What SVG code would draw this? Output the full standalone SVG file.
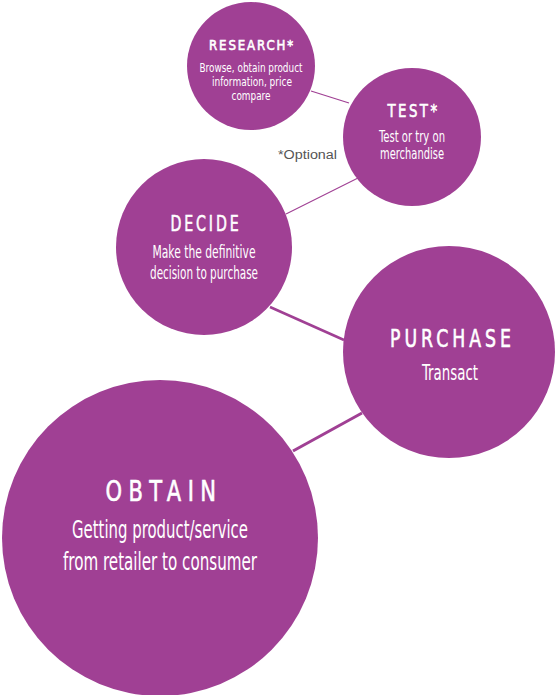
<svg xmlns="http://www.w3.org/2000/svg" width="556" height="695" viewBox="0 0 556 695">
<style>
.c{fill:#a04094}
.t{fill:#fff;font-family:"DejaVu Sans Condensed","Liberation Sans Narrow","Liberation Sans",sans-serif;text-anchor:middle}
.b{stroke:#fff;stroke-width:0.6px}
.ln{stroke:#a04094;fill:none}
.opt{fill:#555;font-family:"Liberation Sans","DejaVu Sans",sans-serif;font-size:12px}
</style>
<rect width="556" height="695" fill="#fff"/>
<g id="connectors">
<line class="ln" x1="311" y1="91" x2="349" y2="103" stroke-width="1.2"/>
<line class="ln" x1="286" y1="214" x2="358" y2="178" stroke-width="1.2"/>
<line class="ln" x1="270" y1="307" x2="344" y2="340" stroke-width="2.5"/>
<line class="ln" x1="293" y1="451" x2="362" y2="413" stroke-width="3"/>
</g>
<g id="research">
<circle class="c" cx="251" cy="66" r="64"/>
<text class="t b" x="252" y="50" font-size="14" letter-spacing="2" textLength="86" lengthAdjust="spacingAndGlyphs">RESEARCH*</text>
<text class="t" x="251" y="72" font-size="13" textLength="103" lengthAdjust="spacingAndGlyphs">Browse, obtain product</text>
<text class="t" x="252" y="86" font-size="13" textLength="80" lengthAdjust="spacingAndGlyphs">information, price</text>
<text class="t" x="251" y="100" font-size="13" textLength="39" lengthAdjust="spacingAndGlyphs">compare</text>
</g>
<g id="test">
<circle class="c" cx="412" cy="137" r="69"/>
<text class="t b" x="413.5" y="117" font-size="18" letter-spacing="3" textLength="52" lengthAdjust="spacingAndGlyphs">TEST*</text>
<text class="t" x="412" y="142" font-size="15" textLength="66" lengthAdjust="spacingAndGlyphs">Test or try on</text>
<text class="t" x="412" y="159" font-size="15" textLength="64" lengthAdjust="spacingAndGlyphs">merchandise</text>
</g>
<text class="opt" x="278" y="159" textLength="59" lengthAdjust="spacingAndGlyphs">*Optional</text>
<g id="decide">
<circle class="c" cx="204" cy="247" r="88"/>
<text class="t b" x="206" y="231" font-size="22" letter-spacing="4" textLength="71" lengthAdjust="spacingAndGlyphs">DECIDE</text>
<text class="t" x="204" y="258" font-size="18" textLength="103" lengthAdjust="spacingAndGlyphs">Make the definitive</text>
<text class="t" x="204" y="279" font-size="18" textLength="108" lengthAdjust="spacingAndGlyphs">decision to purchase</text>
</g>
<g id="purchase">
<circle class="c" cx="449" cy="352" r="106"/>
<text class="t b" x="452.5" y="347" font-size="24" letter-spacing="5" textLength="125" lengthAdjust="spacingAndGlyphs">PURCHASE</text>
<text class="t" x="450" y="380" font-size="22" textLength="56" lengthAdjust="spacingAndGlyphs">Transact</text>
</g>
<g id="obtain">
<circle class="c" cx="160" cy="538" r="158"/>
<text class="t b" x="164" y="501" font-size="29" letter-spacing="8" textLength="117" lengthAdjust="spacingAndGlyphs">OBTAIN</text>
<text class="t" x="160" y="538" font-size="24" textLength="176" lengthAdjust="spacingAndGlyphs">Getting product/service</text>
<text class="t" x="160" y="570" font-size="24" textLength="194" lengthAdjust="spacingAndGlyphs">from retailer to consumer</text>
</g>
</svg>
